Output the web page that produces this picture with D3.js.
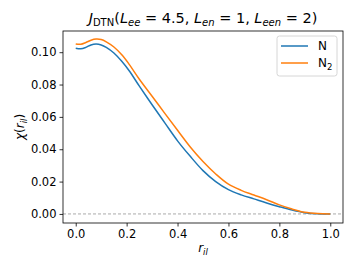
<!DOCTYPE html>
<html>
<head>
<meta charset="utf-8">
<script src="https://cdn.jsdelivr.net/npm/d3@7"></script>
<style>
  body { margin: 0; background: #fff; }
  text { font-family: "DejaVu Sans", sans-serif; fill: #000; }
</style>
</head>
<body>
<svg id="chart"></svg>
<script>
// r_il sample positions
const rValues = [0, 0.02, 0.04, 0.06, 0.08, 0.10, 0.12, 0.15, 0.18, 0.21, 0.25, 0.30, 0.35, 0.40, 0.45, 0.50, 0.55, 0.60, 0.65, 0.70, 0.75, 0.80, 0.85, 0.90, 0.95, 1.00];
// chi(r_il) for N
const chiN = [0.1025, 0.1021, 0.1030, 0.1045, 0.1050, 0.1045, 0.1030, 0.0995, 0.0945, 0.0885, 0.0790, 0.0675, 0.0563, 0.0452, 0.0356, 0.0268, 0.0200, 0.0150, 0.0118, 0.0093, 0.0068, 0.0045, 0.0024, 0.0008, 0.0001, 0.0000];
// chi(r_il) for N2
const chiN2 = [0.1051, 0.1049, 0.1060, 0.1074, 0.1081, 0.1078, 0.1064, 0.1032, 0.0985, 0.0925, 0.0833, 0.0728, 0.0622, 0.0517, 0.0414, 0.0324, 0.0247, 0.0184, 0.0146, 0.0117, 0.0088, 0.0056, 0.0030, 0.0010, 0.0002, 0.0000];
const seriesNames = ["N", "N2"];
const seriesColors = ["#1f77b4", "#ff7f0e"];
const xTicks = [0, 0.2, 0.4, 0.6, 0.8, 1.0];
const yTicks = [0, 0.02, 0.04, 0.06, 0.08, 0.10];

const width = 357, height = 268;
const margin = { left: 63, top: 31, right: 14, bottom: 45 };
const svg = d3.select("#chart").attr("width", width).attr("height", height);

const x = d3.scaleLinear().domain([-0.05, 1.05]).range([margin.left, width - margin.right]);
const y = d3.scaleLinear().domain([-0.0056, 0.1131]).range([height - margin.bottom, margin.top]);

// zero reference line
svg.append("line")
  .attr("x1", x(-0.05)).attr("x2", x(1.05))
  .attr("y1", y(0)).attr("y2", y(0))
  .attr("stroke", "#aaa").attr("stroke-width", 1)
  .attr("stroke-dasharray", "3,2");

// curves
const line = d3.line().x((d) => x(d[0])).y((d) => y(d[1])).curve(d3.curveCatmullRom.alpha(0.5));
[chiN, chiN2].forEach((vals, i) => {
  svg.append("path")
    .datum(rValues.map((r, j) => [r, vals[j]]))
    .attr("d", line)
    .attr("fill", "none")
    .attr("stroke", seriesColors[i])
    .attr("stroke-width", 1.5);
});

// axes
const xAxis = svg.append("g")
  .attr("transform", `translate(0,${height - margin.bottom})`)
  .call(d3.axisBottom(x).tickValues(xTicks).tickFormat(d3.format(".1f")).tickSize(3.5).tickPadding(3));
const yAxis = svg.append("g")
  .attr("transform", `translate(${margin.left},0)`)
  .call(d3.axisLeft(y).tickValues(yTicks).tickFormat(d3.format(".2f")).tickSize(3.5).tickPadding(3));
[xAxis, yAxis].forEach((g) => {
  g.select(".domain").remove();
  g.selectAll("line").attr("stroke", "#000").attr("stroke-width", 0.8);
  g.selectAll("text").attr("font-size", 11.5).attr("fill", "#000").attr("font-family", "DejaVu Sans");
});

// frame
svg.append("rect")
  .attr("x", margin.left).attr("y", margin.top)
  .attr("width", width - margin.left - margin.right)
  .attr("height", height - margin.top - margin.bottom)
  .attr("fill", "none").attr("stroke", "#000").attr("stroke-width", 0.8);

// title
const cx = (margin.left + width - margin.right) / 2;
const title = svg.append("text")
  .attr("x", cx).attr("y", 23)
  .attr("text-anchor", "middle")
  .attr("font-size", 14.5);
function part(t, txt, italic, sub) {
  const s = t.append("tspan").text(txt);
  if (italic) s.attr("font-style", "italic");
  if (sub) s.attr("font-size", 10).attr("dy", 3);
  return s;
}
part(title, "J", true);
part(title, "DTN", false, true);
part(title, "(", false).attr("dy", -3);
part(title, "L", true);
part(title, "ee", true, true);
part(title, " = 4.5, ", false).attr("dy", -3);
part(title, "L", true);
part(title, "en", true, true);
part(title, " = 1, ", false).attr("dy", -3);
part(title, "L", true);
part(title, "een", true, true);
part(title, " = 2)", false).attr("dy", -3);

// x label
const xl = svg.append("text")
  .attr("x", cx).attr("y", 252)
  .attr("text-anchor", "middle").attr("font-size", 12);
part(xl, "r", true);
part(xl, "il", true, true).attr("font-size", 8.5);

// y label
const yl = svg.append("text")
  .attr("transform", `translate(24,${(margin.top + height - margin.bottom) / 2}) rotate(-90)`)
  .attr("text-anchor", "middle").attr("font-size", 12);
part(yl, "χ", true);
part(yl, "(", false);
part(yl, "r", true);
part(yl, "il", true, true).attr("font-size", 8.5);
part(yl, ")", false).attr("dy", -3);

// legend
const lg = svg.append("g").attr("transform", "translate(277,36)");
lg.append("rect")
  .attr("width", 60).attr("height", 40).attr("rx", 2.5)
  .attr("fill", "#fff").attr("fill-opacity", 0.8)
  .attr("stroke", "#ccc").attr("stroke-width", 0.8);
seriesNames.forEach((name, i) => {
  const ly = 10 + i * 17;
  lg.append("line")
    .attr("x1", 4).attr("x2", 31).attr("y1", ly).attr("y2", ly)
    .attr("stroke", seriesColors[i]).attr("stroke-width", 1.5);
  const t = lg.append("text").attr("x", 41).attr("y", ly + 4).attr("font-size", 12);
  if (name === "N2") {
    t.append("tspan").text("N");
    t.append("tspan").text("2").attr("font-size", 8.5).attr("dy", 2.5);
  } else {
    t.text(name);
  }
});
</script>
</body>
</html>
